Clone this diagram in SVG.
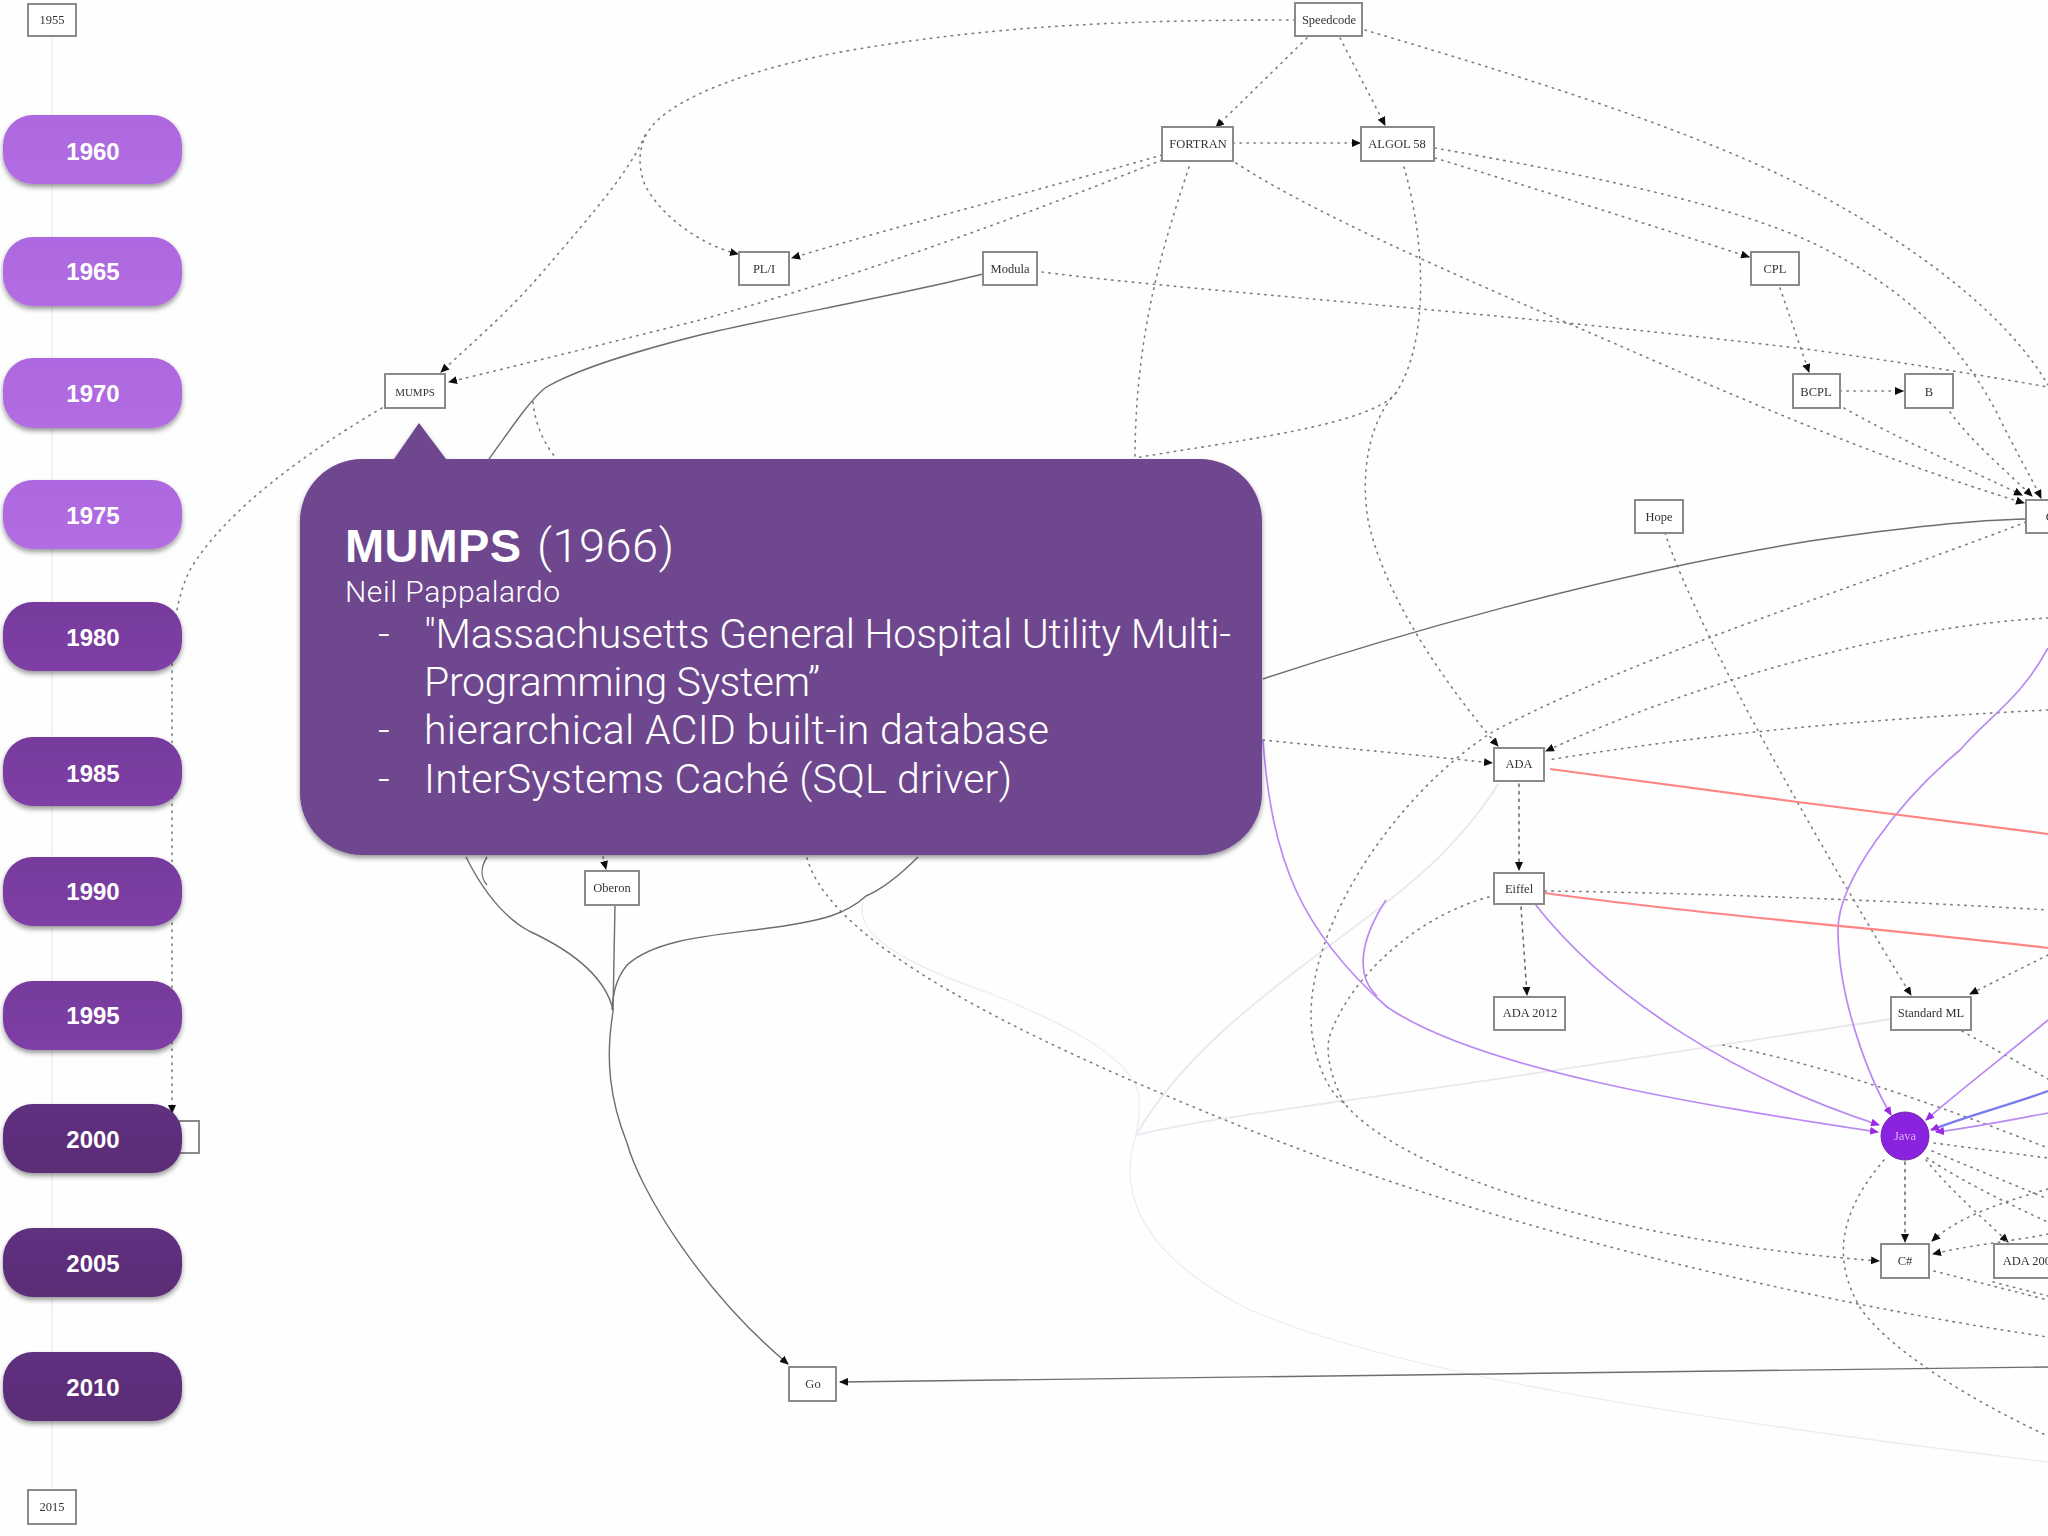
<svg xmlns="http://www.w3.org/2000/svg" width="2048" height="1536" viewBox="0 0 2048 1536">
<style>
.e{fill:none}
.d{stroke:#7d7d7d;stroke-width:1.6;stroke-dasharray:1.4 5.6;stroke-linecap:round}
.k{stroke:#666;stroke-width:1.5;stroke-dasharray:2.5 5;stroke-linecap:round}
.s{stroke:#6e6e6e;stroke-width:1.4}
.p{stroke:#b98af2;stroke-width:1.7}
.b{stroke:#7a7af0;stroke-width:2.2}
.r{stroke:#ff8585;stroke-width:2.2}
.g{stroke:#eae7ee;stroke-width:1.8}
.f{stroke:#efebf2;stroke-width:1.3}
.box{fill:#fff;stroke:#8a8a8a;stroke-width:2}
.lb{font-family:"Liberation Serif",serif;font-size:12.5px;fill:#333;text-anchor:middle}
.pill{filter:url(#sh)}
.yr{font-family:"Liberation Sans",Arial,sans-serif;font-weight:700;font-size:24px;fill:#fff;text-anchor:middle}
.ct{font-family:"Roboto","Liberation Sans",sans-serif;font-weight:300;fill:#fff}
.ctb{font-family:"Liberation Sans",Arial,sans-serif;font-weight:700;fill:#fff}
</style>
<defs>
<marker id="a" markerWidth="10" markerHeight="8" refX="8" refY="4" orient="auto" markerUnits="userSpaceOnUse"><path d="M0,0L9,4L0,8z" fill="#111"/></marker>
<marker id="ap" markerWidth="10" markerHeight="8" refX="8" refY="4" orient="auto" markerUnits="userSpaceOnUse"><path d="M0,0L9,4L0,8z" fill="#9a2ae6"/></marker>
<filter id="sh" x="-10%" y="-15%" width="120%" height="135%"><feDropShadow dx="0" dy="3" stdDeviation="2.5" flood-color="#000" flood-opacity=".4"/></filter>
<filter id="soft" x="0" y="0" width="2048" height="1536" filterUnits="userSpaceOnUse"><feGaussianBlur stdDeviation=".5"/></filter>
<linearGradient id="lt" x1="0" y1="0" x2="0" y2="1"><stop offset="0" stop-color="#ae68df"/><stop offset="1" stop-color="#b26de2"/></linearGradient>
<linearGradient id="md" x1="0" y1="0" x2="0" y2="1"><stop offset="0" stop-color="#763a9c"/><stop offset="1" stop-color="#7f3fa6"/></linearGradient>
<linearGradient id="dk" x1="0" y1="0" x2="0" y2="1"><stop offset="0" stop-color="#5f3080"/><stop offset="1" stop-color="#5b2d76"/></linearGradient>
</defs>
<rect width="2048" height="1536" fill="#fefefe"/>
<g id="connectors" filter="url(#soft)">
<path class="e f" d="M52,36V1488"/>
<path class="e g" d="M1891,1019C1700,1048 1500,1080 1342,1101C1260,1113 1190,1122 1136,1135"/>
<path class="e g" d="M1499,783C1450,860 1390,900 1321,952C1250,1005 1180,1060 1136,1135"/>
<path class="e f" d="M866,896C850,925 880,956 992,994C1080,1030 1130,1060 1139,1094C1140,1115 1138,1125 1136,1135"/>
<path class="e f" d="M1136,1135C1115,1200 1150,1260 1250,1310C1400,1375 1700,1420 2048,1462"/>
<path class="e d" d="M1295,20C1130,20 1000,25 852,50C760,66 690,92 660,118C640,135 635,160 645,185C660,215 700,245 738,254" marker-end="url(#a)"/>
<path class="e d" d="M645,135C630,170 600,205 540,275C510,310 470,345 441,372" marker-end="url(#a)"/>
<path class="e d" d="M1307,38L1216,127" marker-end="url(#a)"/>
<path class="e d" d="M1340,38L1385,125" marker-end="url(#a)"/>
<path class="e d" d="M1365,30C1500,70 1700,130 1820,195C1930,255 2010,320 2048,385"/>
<path class="e d" d="M1233,143H1360" marker-end="url(#a)"/>
<path class="e d" d="M1162,155C1040,190 900,225 792,258" marker-end="url(#a)"/>
<path class="e d" d="M1162,160C1050,205 880,270 700,320C620,340 520,365 449,382" marker-end="url(#a)"/>
<path class="e d" d="M1189,167C1165,240 1135,330 1135,460"/>
<path class="e d" d="M1236,163C1300,205 1420,260 1565,322C1700,380 1850,450 2024,503" marker-end="url(#a)"/>
<path class="e d" d="M1435,158C1540,190 1650,225 1749,257" marker-end="url(#a)"/>
<path class="e d" d="M1435,148C1560,170 1720,200 1813,243C1900,285 1960,340 1999,417C2015,450 2030,475 2041,498" marker-end="url(#a)"/>
<path class="e d" d="M1404,167C1425,240 1430,340 1396,393C1370,425 1240,440 1135,458"/>
<path class="e d" d="M1396,393C1370,420 1360,470 1368,520C1385,600 1450,690 1498,746" marker-end="url(#a)"/>
<path class="e d" d="M1042,272C1180,290 1500,312 1813,350C1900,362 1980,375 2048,387"/>
<path class="e d" d="M1780,288L1809,372" marker-end="url(#a)"/>
<path class="e d" d="M1840,391H1903" marker-end="url(#a)"/>
<path class="e d" d="M1844,408C1900,440 1970,470 2022,495" marker-end="url(#a)"/>
<path class="e d" d="M1950,412C1970,440 2005,470 2032,496" marker-end="url(#a)"/>
<path class="e d" d="M1665,533C1700,640 1840,880 1911,995" marker-end="url(#a)"/>
<path class="e d" d="M2026,522C1850,590 1650,650 1494,731C1400,790 1310,920 1311,1017C1311,1050 1325,1090 1344,1103C1400,1170 1600,1240 1879,1261" marker-end="url(#a)"/>
<path class="e d" d="M2048,618C1900,625 1700,680 1546,751" marker-end="url(#a)"/>
<path class="e d" d="M2048,710C1850,720 1700,735 1548,760"/>
<path class="e d" d="M1263,740C1340,748 1420,755 1492,763" marker-end="url(#a)"/>
<path class="e k" d="M1519,784V870" marker-end="url(#a)"/>
<path class="e k" d="M1521,907L1527,995" marker-end="url(#a)"/>
<path class="e d" d="M1545,891C1700,893 1880,900 2048,910"/>
<path class="e d" d="M1489,897C1420,915 1350,975 1329,1038C1325,1060 1335,1085 1344,1103"/>
<path class="e d" d="M807,858C830,940 1000,1030 1250,1130C1500,1230 1800,1300 2048,1337"/>
<path class="e d" d="M1723,1045C1800,1060 1900,1090 2048,1148"/>
<path class="e k" d="M1905,1162V1242" marker-end="url(#a)"/>
<path class="e d" d="M1884,1160C1850,1200 1825,1250 1861,1309C1890,1350 1970,1400 2048,1436"/>
<path class="e d" d="M1934,1143L2048,1158"/>
<path class="e d" d="M1932,1151L2048,1199"/>
<path class="e d" d="M1927,1158C1960,1180 2010,1205 2048,1222"/>
<path class="e d" d="M1926,1160C1950,1190 1985,1220 2008,1242" marker-end="url(#a)"/>
<path class="e d" d="M2048,1189C2010,1200 1960,1215 1932,1241" marker-end="url(#a)"/>
<path class="e d" d="M2048,1234C2020,1240 1970,1245 1933,1254" marker-end="url(#a)"/>
<path class="e d" d="M1962,1031L2048,1079"/>
<path class="e d" d="M2048,955L1970,994" marker-end="url(#a)"/>
<path class="e d" d="M1934,1271L2048,1300"/>
<path class="e d" d="M1993,1282L2048,1296"/>
<path class="e d" d="M382,408C310,450 225,510 190,570C170,610 172,660 172,720L172,1113" marker-end="url(#a)"/>
<path class="e d" d="M533,402C535,425 545,445 556,458"/>
<path class="e d" d="M603,857L606,869" marker-end="url(#a)"/>
<path class="e s" d="M983,274C900,295 760,320 700,335C640,350 575,370 545,388C530,400 510,430 489,459"/>
<path class="e s" d="M1263,679C1380,640 1600,575 1810,541C1900,528 1970,520 2026,519"/>
<path class="e s" d="M466,857C480,885 500,915 529,931C570,950 605,975 613,1010"/>
<path class="e s" d="M487,857C480,868 481,878 487,885"/>
<path class="e s" d="M615,905L613,1012"/>
<path class="e s" d="M918,857C895,880 880,890 866,896C845,915 820,920 790,925C730,935 660,935 627,965C615,980 613,995 612,1010"/>
<path class="e s" d="M613,1012C605,1060 610,1100 627,1143C640,1190 700,1290 788,1364" marker-end="url(#a)"/>
<path class="e s" d="M2048,1367C1600,1372 1200,1377 840,1382" marker-end="url(#a)"/>
<path class="e p" d="M1263,741C1272,860 1300,930 1387,1007C1480,1070 1700,1105 1878,1132" marker-end="url(#ap)"/>
<path class="e p" d="M1386,900C1360,940 1355,975 1377,996"/>
<path class="e p" d="M1535,904C1610,1000 1740,1080 1879,1125" marker-end="url(#ap)"/>
<path class="e p" d="M2048,648C2020,700 1990,715 1960,750C1900,800 1838,880 1838,930C1838,1000 1870,1080 1891,1115" marker-end="url(#ap)"/>
<path class="e p" d="M2048,1020C2000,1060 1960,1090 1926,1120" marker-end="url(#ap)"/>
<path class="e b" d="M2048,1091C2010,1105 1970,1115 1931,1130" marker-end="url(#ap)"/>
<path class="e p" d="M2048,1113C2010,1120 1970,1128 1936,1132" marker-end="url(#ap)"/>
<path class="e r" d="M1550,769C1700,790 1900,815 2048,834"/>
<path class="e r" d="M1545,893C1700,915 1900,930 2048,948"/>
</g>
<g filter="url(#soft)">
<g id="node-1955"><rect class="box" x="28" y="4" width="48" height="32"/><text class="lb" x="52" y="24">1955</text></g>
<g id="node-mumps"><rect class="box" x="385" y="374" width="60" height="34"/><text class="lb" x="415" y="396" style="font-size:11px">MUMPS</text></g>
<g id="node-speedcode"><rect class="box" x="1295" y="3" width="67" height="33"/><text class="lb" x="1329" y="24">Speedcode</text></g>
<g id="node-fortran"><rect class="box" x="1162" y="127" width="71" height="34"/><text class="lb" x="1198" y="148">FORTRAN</text></g>
<g id="node-algol58"><rect class="box" x="1361" y="127" width="73" height="34"/><text class="lb" x="1397" y="148">ALGOL 58</text></g>
<g id="node-pli"><rect class="box" x="739" y="252" width="50" height="33"/><text class="lb" x="764" y="273">PL/I</text></g>
<g id="node-modula"><rect class="box" x="983" y="252" width="54" height="33"/><text class="lb" x="1010" y="273">Modula</text></g>
<g id="node-cpl"><rect class="box" x="1751" y="252" width="48" height="33"/><text class="lb" x="1775" y="273">CPL</text></g>
<g id="node-bcpl"><rect class="box" x="1793" y="374" width="47" height="34"/><text class="lb" x="1816" y="396">BCPL</text></g>
<g id="node-b"><rect class="box" x="1905" y="374" width="48" height="34"/><text class="lb" x="1929" y="396">B</text></g>
<g id="node-hope"><rect class="box" x="1635" y="500" width="48" height="33"/><text class="lb" x="1659" y="521">Hope</text></g>
<g id="node-c"><rect class="box" x="2026" y="500" width="48" height="33"/><text class="lb" x="2050" y="521">C</text></g>
<g id="node-ada"><rect class="box" x="1494" y="748" width="50" height="33"/><text class="lb" x="1519" y="768">ADA</text></g>
<g id="node-eiffel"><rect class="box" x="1494" y="873" width="50" height="31"/><text class="lb" x="1519" y="893">Eiffel</text></g>
<g id="node-ada2012"><rect class="box" x="1494" y="997" width="71" height="33"/><text class="lb" x="1530" y="1017">ADA 2012</text></g>
<g id="node-sml"><rect class="box" x="1891" y="997" width="80" height="33"/><text class="lb" x="1931" y="1017">Standard ML</text></g>
<g id="node-java"><ellipse cx="1905" cy="1136" rx="24" ry="24" fill="#8a20e0" stroke="#6d2aa8"/><text class="lb" x="1905" y="1140" style="fill:#d9b4f7">Java</text></g>
<g id="node-csharp"><rect class="box" x="1881" y="1244" width="48" height="34"/><text class="lb" x="1905" y="1265">C#</text></g>
<g id="node-ada2005"><rect class="box" x="1994" y="1244" width="71" height="34"/><text class="lb" x="2030" y="1265">ADA 2005</text></g>
<g id="node-oberon"><rect class="box" x="585" y="871" width="54" height="34"/><text class="lb" x="612" y="892">Oberon</text></g>
<g id="node-go"><rect class="box" x="789" y="1367" width="47" height="34"/><text class="lb" x="813" y="1388">Go</text></g>
<g id="node-2015"><rect class="box" x="28" y="1490" width="48" height="34"/><text class="lb" x="52" y="1511">2015</text></g>
<g id="node-hidden"><rect class="box" x="150" y="1121" width="49" height="32"/></g>
</g>
<g id="year-1960"><rect class="pill" x="3" y="115" width="179" height="69" rx="30" fill="url(#lt)"/><text class="yr" x="93" y="160">1960</text></g>
<g id="year-1965"><rect class="pill" x="3" y="237" width="179" height="69" rx="30" fill="url(#lt)"/><text class="yr" x="93" y="280">1965</text></g>
<g id="year-1970"><rect class="pill" x="3" y="358" width="179" height="70" rx="30" fill="url(#lt)"/><text class="yr" x="93" y="402">1970</text></g>
<g id="year-1975"><rect class="pill" x="3" y="480" width="179" height="69" rx="30" fill="url(#lt)"/><text class="yr" x="93" y="524">1975</text></g>
<g id="year-1980"><rect class="pill" x="3" y="602" width="179" height="69" rx="30" fill="url(#md)"/><text class="yr" x="93" y="646">1980</text></g>
<g id="year-1985"><rect class="pill" x="3" y="737" width="179" height="69" rx="30" fill="url(#md)"/><text class="yr" x="93" y="782">1985</text></g>
<g id="year-1990"><rect class="pill" x="3" y="857" width="179" height="69" rx="30" fill="url(#md)"/><text class="yr" x="93" y="900">1990</text></g>
<g id="year-1995"><rect class="pill" x="3" y="981" width="179" height="69" rx="30" fill="url(#md)"/><text class="yr" x="93" y="1024">1995</text></g>
<g id="year-2000"><rect class="pill" x="3" y="1104" width="179" height="69" rx="30" fill="url(#dk)"/><text class="yr" x="93" y="1148">2000</text></g>
<g id="year-2005"><rect class="pill" x="3" y="1228" width="179" height="69" rx="30" fill="url(#dk)"/><text class="yr" x="93" y="1272">2005</text></g>
<g id="year-2010"><rect class="pill" x="3" y="1352" width="179" height="69" rx="30" fill="url(#dk)"/><text class="yr" x="93" y="1396">2010</text></g>
<g id="callout">
<path d="M419,423L446,459H1200A62,62 0 0 1 1262,521V793A62,62 0 0 1 1200,855H362A62,62 0 0 1 300,793V521A62,62 0 0 1 362,459H394Z" fill="#6e468f" filter="url(#sh)"/>
<text class="ctb" x="345" y="562" font-size="47" textLength="176">MUMPS</text>
<text class="ct" x="537" y="562" font-size="47" textLength="137">(1966)</text>
<text class="ct" x="345" y="602" font-size="30" textLength="215">Neil Pappalardo</text>
<text class="ct" x="378" y="648" font-size="41">-</text>
<text class="ct" x="424" y="648" font-size="41" textLength="807">"Massachusetts General Hospital Utility Multi-</text>
<text class="ct" x="424" y="696" font-size="41" textLength="396">Programming System”</text>
<text class="ct" x="378" y="744" font-size="41">-</text>
<text class="ct" x="424" y="744" font-size="41" textLength="625">hierarchical ACID built-in database</text>
<text class="ct" x="378" y="793" font-size="41">-</text>
<text class="ct" x="424" y="793" font-size="41" textLength="588">InterSystems Caché (SQL driver)</text>
</g>
</svg>
